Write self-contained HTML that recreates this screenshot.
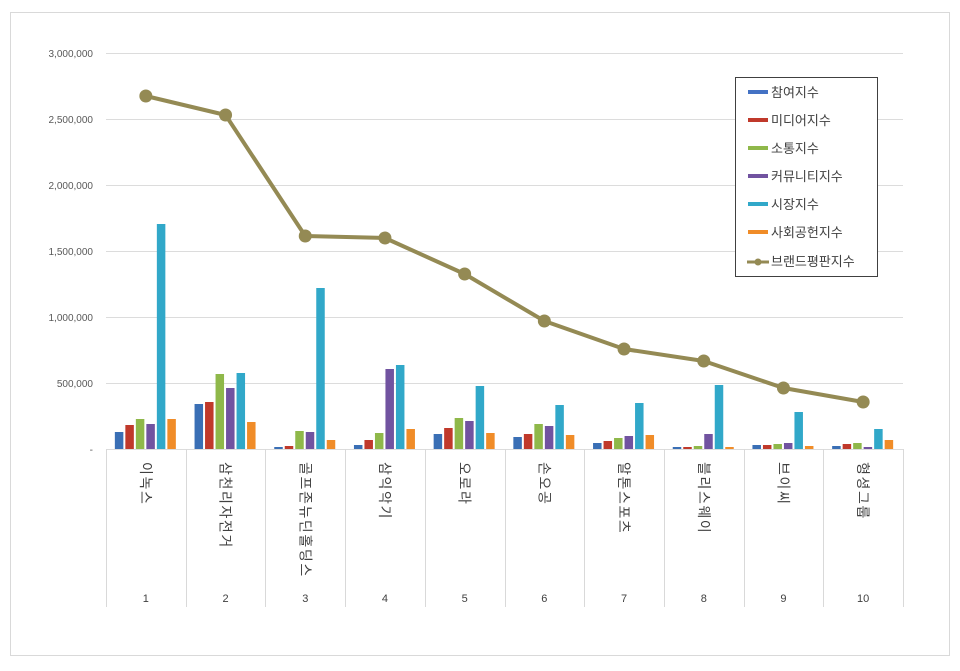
<!DOCTYPE html>
<html><head><meta charset="utf-8"><style>
body{margin:0;background:#fff;}
text{font-family:"Liberation Sans","Noto Sans CJK KR",sans-serif;}
</style></head><body>
<svg width="960" height="666" xmlns="http://www.w3.org/2000/svg">
<rect x="0" y="0" width="960" height="666" fill="#fff"/>
<rect x="10.5" y="12.5" width="939" height="643" fill="#fff" stroke="#d9d9d9"/>
<g stroke="#dcdcdc" stroke-width="1">
<line x1="106" y1="53.5" x2="903" y2="53.5"/>
<line x1="106" y1="119.5" x2="903" y2="119.5"/>
<line x1="106" y1="185.5" x2="903" y2="185.5"/>
<line x1="106" y1="251.5" x2="903" y2="251.5"/>
<line x1="106" y1="317.5" x2="903" y2="317.5"/>
<line x1="106" y1="383.5" x2="903" y2="383.5"/>
<line x1="106" y1="449.5" x2="903" y2="449.5"/>
</g>
<g font-size="10" fill="#595959" text-anchor="end">
<text x="93" y="57">3,000,000</text>
<text x="93" y="123">2,500,000</text>
<text x="93" y="189">2,000,000</text>
<text x="93" y="255">1,500,000</text>
<text x="93" y="321">1,000,000</text>
<text x="93" y="387">500,000</text>
<text x="93" y="453">-</text>
</g>
<g id="bars"></g>
<g id="grid2" stroke="#d9d9d9"></g>
<g id="labels" font-size="14" fill="#404040" letter-spacing="1.6"></g>
<g id="line"></g>
<g>
<rect x="735.5" y="77.5" width="142" height="199" fill="#fff" stroke="#404040"/>
<g font-size="13" fill="#404040">
<rect x="748" y="90" width="20" height="4" fill="#4472c4"/><text x="771" y="97">참여지수</text>
<rect x="748" y="118" width="20" height="4" fill="#c0392b"/><text x="771" y="125">미디어지수</text>
<rect x="748" y="146" width="20" height="4" fill="#8fb84a"/><text x="771" y="153">소통지수</text>
<rect x="748" y="174" width="20" height="4" fill="#7153a0"/><text x="771" y="181">커뮤니티지수</text>
<rect x="748" y="202" width="20" height="4" fill="#31a8c9"/><text x="771" y="209">시장지수</text>
<rect x="748" y="230" width="20" height="4" fill="#f08c28"/><text x="771" y="237">사회공헌지수</text>
<line x1="747" y1="262" x2="769" y2="262" stroke="#948a54" stroke-width="3"/><circle cx="758" cy="262" r="3.5" fill="#948a54"/><text x="771" y="266">브랜드평판지수</text>
</g></g>
</svg>
<script>
const ns="http://www.w3.org/2000/svg";
const H=[[17,24,30,25,225,30],[45,47,75,61,76,27],[2,3,18,17,161,9],[4,9,16,80,84,20],[15,21,31,28,63,16],[12,15,25,23,44,14],[6,8,11,13,46,14],[2,2,3,15,64,2],[4,4,5,6,37,3],[3,5,6,2,20,9]];
const C=["#3a6fb5","#c0392b","#8fb84a","#7153a0","#31a8c9","#f08c28"];
const LY=[96,115,236,238,274,321,349,361,388,402];
const names=["이녹스","삼천리자전거","골프존뉴딘홀딩스","삼익악기","오로라","손오공","알톤스포츠","블리스웨이","브이씨","형셩그룹"];
const w=79.7,x0=106;
const bars=document.getElementById("bars"),g2=document.getElementById("grid2"),lb=document.getElementById("labels"),ln=document.getElementById("line");
function el(t,a,p){const e=document.createElementNS(ns,t);for(const k in a)e.setAttribute(k,a[k]);p.appendChild(e);return e;}
for(let i=0;i<=10;i++){const x=Math.round(x0+w*i)+0.5;el("line",{x1:x,y1:449,x2:x,y2:607},g2);}
let pts=[];
for(let i=0;i<10;i++){
 const cx=x0+w*(i+0.5);
 for(let j=0;j<6;j++){const bx=cx-31+j*10.5;el("rect",{x:bx,y:449-H[i][j],width:8.5,height:H[i][j],fill:C[j]},bars);}
 const t=el("text",{x:0,y:0,transform:"translate("+(cx-5)+",462) rotate(90)"},lb);t.textContent=names[i];
 const n=el("text",{x:cx,y:602,"font-size":"11","text-anchor":"middle","letter-spacing":"0"},lb);n.textContent=i+1;
 pts.push(cx+","+LY[i]);
}
el("polyline",{points:pts.join(" "),fill:"none",stroke:"#948a54","stroke-width":"4","stroke-linejoin":"round"},ln);
for(let i=0;i<10;i++){el("circle",{cx:x0+w*(i+0.5),cy:LY[i],r:6.5,fill:"#948a54"},ln);}
</script>
</body></html>
